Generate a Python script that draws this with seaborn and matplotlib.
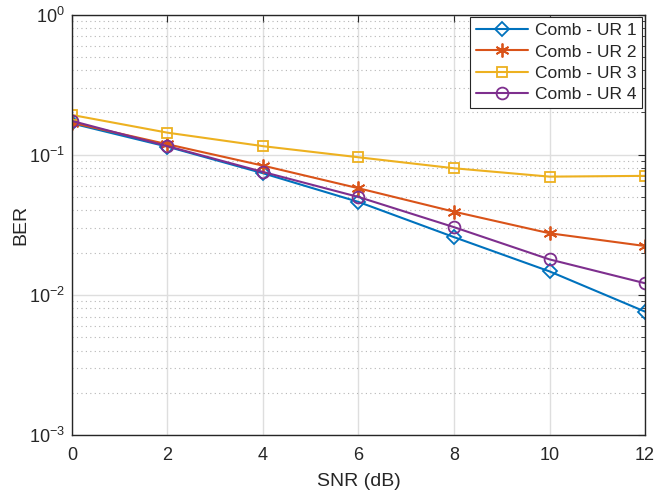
import numpy as np
import pandas as pd
import matplotlib
matplotlib.use("Agg")
import matplotlib.pyplot as plt
import seaborn as sns
from matplotlib.ticker import LogLocator, NullFormatter

# values
snr = [0, 2, 4, 6, 8, 10, 12]
ber_ur1 = [0.167, 0.114, 0.0737, 0.0460, 0.0258, 0.0147, 0.00759]
ber_ur2 = [0.169, 0.1186, 0.0835, 0.0576, 0.0392, 0.0275, 0.0223]
ber_ur3 = [0.192, 0.1435, 0.115, 0.0958, 0.0800, 0.0697, 0.0706]
ber_ur4 = [0.174, 0.115, 0.0753, 0.0499, 0.0304, 0.0179, 0.0121]
labels = ["Comb - UR 1", "Comb - UR 2", "Comb - UR 3", "Comb - UR 4"]

df = pd.DataFrame({
    "SNR": snr * 4,
    "BER": ber_ur1 + ber_ur2 + ber_ur3 + ber_ur4,
    "series": np.repeat(labels, len(snr)),
})

colors = ["#0072BD", "#D95319", "#EDB120", "#7E2F8E"]
markers = ["D", (6, 2, 0), "s", "o"]
msizes = [7.5, 10, 7.5, 8.5]

sns.set_style("white")
plt.rcParams["font.family"] = ["Liberation Sans", "DejaVu Sans"]
plt.rcParams["mathtext.fontset"] = "custom"
plt.rcParams["mathtext.rm"] = "Liberation Sans"
plt.rcParams["mathtext.it"] = "Liberation Sans"
plt.rcParams["axes.unicode_minus"] = False

fig = plt.figure(figsize=(6.64, 5.0), dpi=100)
ax = fig.add_axes([0.1084, 0.13, 0.863, 0.841])

for lab, c, m, ms in zip(labels, colors, markers, msizes):
    sub = df[df["series"] == lab]
    sns.lineplot(data=sub, x="SNR", y="BER", color=c, marker=m, markersize=ms,
                 markerfacecolor="none", markeredgecolor=c, markeredgewidth=1.3,
                 linewidth=1.5, label=lab, ax=ax)

ax.set_yscale("log")
ax.set_xlim(0, 12)
ax.set_ylim(1e-3, 1)
ax.set_xticks(snr)
ax.yaxis.set_major_locator(LogLocator(base=10))
ax.yaxis.set_minor_locator(LogLocator(base=10, subs=np.arange(2, 10)))
ax.yaxis.set_minor_formatter(NullFormatter())

ax.grid(True, which="major", color="#dedede", linestyle="-", linewidth=1.0)
ax.grid(True, which="minor", axis="y", color="#b5b5b5", linestyle=(0, (1, 3)), linewidth=0.8)
ax.set_axisbelow(True)

for s in ax.spines.values():
    s.set_visible(True)
    s.set_color("#262626")
    s.set_linewidth(1.0)
ax.tick_params(which="both", direction="in", top=True, right=True, colors="#262626",
               labelsize=13, labelcolor="#262626")
ax.tick_params(which="major", length=5)
ax.tick_params(which="minor", length=3)
ax.tick_params(axis="x", pad=9)
ax.tick_params(axis="y", pad=5)

ax.set_xlabel("SNR (dB)", fontsize=14, color="#262626", labelpad=6)
ax.set_ylabel("BER", fontsize=14, color="#262626", labelpad=0)

leg = ax.legend(loc="upper right", fontsize=12.5, frameon=True, fancybox=False,
                framealpha=1, edgecolor="#262626", borderaxespad=0.15,
                handlelength=3.0, borderpad=0.35, labelspacing=0.35, handletextpad=0.4)
leg.get_frame().set_linewidth(0.8)

fig.savefig("out.png", dpi=100)
